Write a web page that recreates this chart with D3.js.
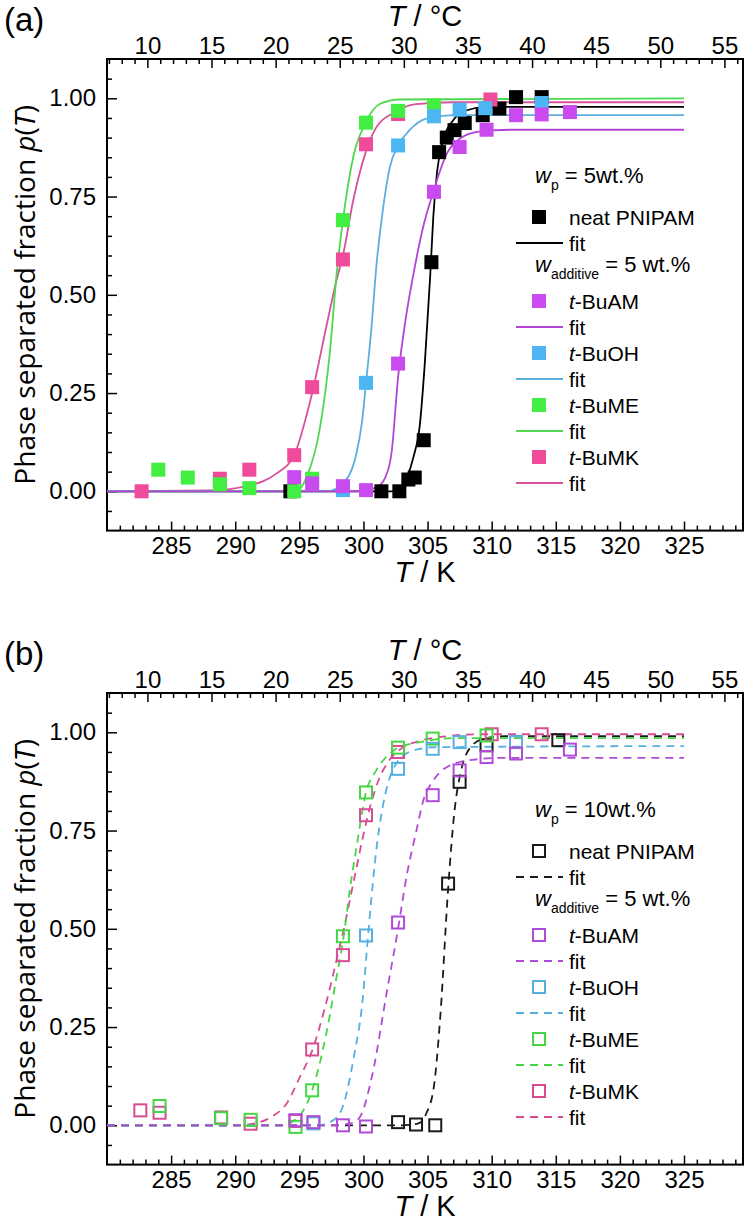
<!DOCTYPE html>
<html><head><meta charset="utf-8">
<script src="https://cdnjs.cloudflare.com/ajax/libs/d3/7.8.5/d3.min.js"></script>
<style>
body{margin:0;background:#fff}
svg{display:block}
.tick text{font-family:"Liberation Sans",Arial,sans-serif;font-size:24px;fill:#000}
.tick line{stroke:#000;stroke-width:1.5}
.lab{font-family:"Liberation Sans",Arial,sans-serif;fill:#000}
</style>
</head><body>
<svg id="chart" width="750" height="1225"></svg>
<script>
// ---------- tick labels ----------
const kelvinTicks = [285, 290, 295, 300, 305, 310, 315, 320, 325];
const celsiusTicks = [10, 15, 20, 25, 30, 35, 40, 45, 50, 55];
const fractionTicks = [0, 0.25, 0.5, 0.75, 1.0];
const kelvinMinor = d3.range(281, 330).filter(v => v % 5 !== 0);
const celsiusMinor = d3.range(7, 57).filter(v => v % 5 !== 0);
const fractionMinor = [-0.05,0.05,0.1,0.15,0.2,0.3,0.35,0.4,0.45,0.55,0.6,0.65,0.7,0.8,0.85,0.9,0.95,1.05];

// ---------- series ----------
const seriesNames = ["neat PNIPAM", "t-BuAM", "t-BuOH", "t-BuME", "t-BuMK"];

// Panel (a): wp = 5 wt.%  (T in K, p(T))
const a_neat = [[294.3,0.0],[301.4,0.0],[302.8,0.0],[303.5,0.03],[304.0,0.035],[304.7,0.13],[305.3,0.583],[305.9,0.863],[306.5,0.90],[307.1,0.919],[307.9,0.937],[309.3,0.957],[310.6,0.974],[311.9,1.003],[313.9,1.003]];
const a_AM = [[294.6,0.036],[296.0,0.02],[298.4,0.013],[300.2,0.003],[302.7,0.325],[305.5,0.762],[307.5,0.876],[309.6,0.92],[311.9,0.957],[313.9,0.959],[316.1,0.965]];
const a_OH = [[298.4,0.003],[300.2,0.276],[302.7,0.88],[305.5,0.954],[307.5,0.971],[309.5,0.975],[313.9,0.988]];
const a_ME = [[284.0,0.055],[286.3,0.035],[288.8,0.018],[291.1,0.008],[294.6,0.0],[296.0,0.032],[298.4,0.69],[300.2,0.938],[302.7,0.968],[305.5,0.982]];
const a_MK = [[282.7,0.0],[288.8,0.032],[291.1,0.055],[294.6,0.092],[296.0,0.265],[298.4,0.59],[300.2,0.883],[302.7,0.96],[309.9,0.997]];

const a_neatFit = [[280,0],[302.2,0],[302.8,0.004],[303.4,0.036],[303.9,0.087],[304.4,0.17],[304.8,0.333],[305.2,0.545],[305.45,0.7],[305.75,0.815],[306.2,0.893],[307.0,0.944],[308.0,0.969],[309.6,0.978],[325,0.978]];
const a_AMFit = [[280,0],[299.5,0],[301.0,0.01],[301.7,0.035],[302.2,0.1],[302.7,0.29],[303.3,0.44],[304.0,0.57],[304.6,0.665],[305.4,0.757],[306.5,0.859],[307.5,0.897],[309.0,0.915],[311.5,0.92],[325,0.92]];
const a_OHFit = [[280,0],[297.2,0],[298.4,0.02],[299.45,0.096],[299.9,0.18],[300.2,0.276],[300.63,0.418],[301.0,0.57],[301.55,0.725],[302.06,0.825],[302.7,0.88],[303.6,0.919],[304.9,0.948],[307,0.957],[325,0.957]];
const a_MEFit = [[280,0],[294.8,0],[295.56,0.036],[296.6,0.16],[297.4,0.36],[297.9,0.55],[298.4,0.69],[299.2,0.85],[300.2,0.94],[301.3,0.986],[302.8,0.997],[325,1.0]];
const a_MKFit = [[280,0],[288,0.002],[291.1,0.015],[293.2,0.045],[294.6,0.092],[295.6,0.198],[296.0,0.25],[297.1,0.418],[297.9,0.537],[298.4,0.6],[299.2,0.74],[300.2,0.865],[301.0,0.926],[302.3,0.962],[304.1,0.985],[307,0.99],[325,0.99]];

// Panel (b): wp = 10 wt.%
const b_neat = [[302.7,0.008],[304.1,0.002],[305.6,0.0],[306.6,0.615],[307.5,0.874],[309.6,0.967],[315.2,0.98]];
const b_AM = [[294.7,0.013],[296.1,0.008],[298.4,0.0],[300.2,-0.003],[302.7,0.516],[305.4,0.84],[307.5,0.903],[309.6,0.937],[311.9,0.946],[316.1,0.956]];
const b_OH = [[296.1,0.005],[300.2,0.483],[302.7,0.907],[305.4,0.958],[307.5,0.975],[311.9,0.975]];
const b_ME = [[284.1,0.049],[288.9,0.018],[291.2,0.014],[294.7,-0.004],[296.0,0.089],[298.4,0.481],[300.2,0.847],[302.7,0.961],[305.4,0.984],[309.6,0.992]];
const b_MK = [[282.6,0.038],[284.1,0.032],[288.9,0.02],[291.2,0.004],[294.7,0.011],[296.0,0.193],[298.4,0.433],[300.2,0.789],[302.7,0.95],[310.0,0.995],[313.9,0.995]];

const b_neatFit = [[280,0],[303,0],[304.3,0.005],[304.9,0.03],[305.5,0.1],[306.0,0.28],[306.6,0.6],[307.1,0.8],[307.6,0.9],[308.3,0.96],[309.5,0.985],[311,0.99],[325,0.99]];
const b_AMFit = [[280,0],[297.5,0],[299,0.005],[299.7,0.02],[300.7,0.13],[301.8,0.335],[302.7,0.5],[303.4,0.64],[304.1,0.745],[304.7,0.83],[305.4,0.875],[306.7,0.915],[308.5,0.93],[311,0.935],[325,0.935]];
const b_OHFit = [[280,0],[296.5,0],[297.5,0.01],[298.3,0.04],[299.2,0.165],[300,0.34],[300.3,0.46],[300.6,0.57],[301,0.7],[301.5,0.81],[302.3,0.905],[303.6,0.95],[305.5,0.962],[325,0.965]];
const b_MEFit = [[280,0],[293.5,0],[294.5,0.01],[295.04,0.025],[296.0,0.089],[297.1,0.233],[297.9,0.377],[298.5,0.49],[298.9,0.59],[299.46,0.708],[300.2,0.847],[301.0,0.903],[302.06,0.946],[302.7,0.961],[304.4,0.975],[307,0.985],[325,0.985]];
const b_MKFit = [[280,0],[290,0],[291.5,0.005],[293,0.025],[294,0.055],[295,0.12],[296,0.19],[297,0.3],[297.9,0.42],[298.6,0.52],[299.3,0.63],[300,0.74],[300.6,0.82],[301.2,0.88],[302,0.928],[302.8,0.955],[304.4,0.978],[306.5,0.99],[309,0.995],[325,0.995]];

// colours
const a_fill = ["#000000", "#C94BF0", "#4CB6F2", "#43EE43", "#F04A9B"];
const a_line = ["#000000", "#B443D6", "#5BB0DE", "#4FD84F", "#D9509B"];
const b_col  = ["#1a1a1a", "#B04BD6", "#55B0E0", "#45D545", "#D84C92"];

// ---------- layout ----------
const svg = d3.select("#chart");
const x = d3.scaleLinear().domain([280, 329.6]).range([107, 743]);
const xC = d3.scaleLinear().domain([280 - 273.15, 329.6 - 273.15]).range([107, 743]);
const PH = 471.6;
const drawOrder = [0, 4, 3, 2, 1]; // black, MK, ME, OH, AM on top

function panel(cfg) {
  const top = cfg.top, bottom = top + PH;
  const off = top - 59;
  const y = d3.scaleLinear().domain([-0.1, 1.1]).range([bottom, top]);
  const g = svg.append("g");

  // axes
  const addAxis = (axis, tr) => {
    const a = g.append("g").attr("transform", tr).call(axis);
    a.select(".domain").remove();
    a.selectAll(".tick text").attr("font-family", null).attr("font-size", null);
    return a;
  };
  addAxis(d3.axisBottom(x).tickValues(kelvinMinor).tickSize(-5).tickFormat(""), `translate(0,${bottom})`);
  addAxis(d3.axisBottom(x).tickValues(kelvinTicks).tickSize(-9).tickPadding(6).tickFormat(d3.format("d")), `translate(0,${bottom})`);
  addAxis(d3.axisTop(xC).tickValues(celsiusMinor).tickSize(-5).tickFormat(""), `translate(0,${top})`);
  addAxis(d3.axisTop(xC).tickValues(celsiusTicks).tickSize(-9).tickPadding(5).tickFormat(d3.format("d")), `translate(0,${top})`);
  addAxis(d3.axisLeft(y).tickValues(fractionMinor).tickSize(-5).tickFormat(""), `translate(107,0)`);
  addAxis(d3.axisLeft(y).tickValues(fractionTicks).tickSize(-10).tickPadding(11).tickFormat(d3.format(".2f")), `translate(107,0)`);

  // frame
  g.append("rect").attr("x", 107).attr("y", top).attr("width", 636).attr("height", PH)
    .attr("fill", "none").attr("stroke", "#000").attr("stroke-width", 2);

  // titles
  const tC = g.append("text").attr("class", "lab").attr("x", 425).attr("y", top - 33)
    .attr("text-anchor", "middle").attr("font-size", 29);
  tC.append("tspan").attr("font-style", "italic").text("T");
  tC.append("tspan").text(" / °C");
  const tK = g.append("text").attr("class", "lab").attr("x", 425).attr("y", bottom + 51)
    .attr("text-anchor", "middle").attr("font-size", 29);
  tK.append("tspan").attr("font-style", "italic").text("T");
  tK.append("tspan").text(" / K");
  g.append("text").attr("class", "lab").attr("x", 4).attr("y", top - 28)
    .attr("font-size", 33).text(cfg.label);
  const yt = g.append("text").attr("transform", `translate(35,${(top + bottom) / 2}) rotate(-90)`)
    .attr("text-anchor", "middle").attr("font-family", "'Open Sans', sans-serif").attr("font-size", 28).attr("fill", "#000");
  yt.append("tspan").text("Phase separated fraction ");
  yt.append("tspan").attr("font-style", "italic").text("p");
  yt.append("tspan").text("(");
  yt.append("tspan").attr("font-style", "italic").text("T");
  yt.append("tspan").text(")");

  // fit lines
  const line = d3.line().x(d => x(d[0])).y(d => y(d[1])).curve(d3.curveMonotoneX);
  drawOrder.forEach(i => {
    g.append("path").datum(cfg.fits[i]).attr("d", line).attr("fill", "none")
      .attr("stroke", cfg.lineCols[i]).attr("stroke-width", 1.8)
      .attr("stroke-dasharray", cfg.dashed ? "8,6" : null);
  });
  // points
  const S = cfg.filled ? 14 : 12;
  drawOrder.forEach(i => {
    g.append("g").selectAll("rect").data(cfg.points[i]).join("rect")
      .attr("x", d => x(d[0]) - S / 2).attr("y", d => y(d[1]) - S / 2)
      .attr("width", S).attr("height", S)
      .attr("fill", cfg.filled ? cfg.fillCols[i] : "none")
      .attr("stroke", cfg.filled ? "none" : cfg.lineCols[i])
      .attr("stroke-width", cfg.filled ? 0 : 2);
  });

  // legend
  const L = g.append("g").attr("transform", `translate(0,${off})`).attr("class", "lab");
  const wp = L.append("text").attr("x", 535).attr("y", 183).attr("font-size", 22);
  wp.append("tspan").attr("font-style", "italic").text("w");
  wp.append("tspan").attr("font-size", 14).attr("dy", 7).text("p");
  wp.append("tspan").attr("dy", -7).text(cfg.wpText);
  const wa = L.append("text").attr("x", 535).attr("y", 272).attr("font-size", 22);
  wa.append("tspan").attr("font-style", "italic").text("w");
  wa.append("tspan").attr("font-size", 14).attr("dy", 7).text("additive");
  wa.append("tspan").attr("dy", -7).text(" = 5 wt.%");
  const rows = [217, 301, 353, 405, 457];
  rows.forEach((ry, i) => {
    L.append("rect").attr("x", 539 - S / 2).attr("y", ry - S / 2).attr("width", S).attr("height", S)
      .attr("fill", cfg.filled ? cfg.fillCols[i] : "none")
      .attr("stroke", cfg.filled ? "none" : cfg.lineCols[i]).attr("stroke-width", cfg.filled ? 0 : 2);
    const t = L.append("text").attr("x", 569).attr("y", ry + 7.5).attr("font-size", 21);
    const nm = seriesNames[i];
    if (nm.startsWith("t-")) {
      t.append("tspan").attr("font-style", "italic").text("t");
      t.append("tspan").text(nm.slice(1));
    } else t.text(nm);
    const fy = ry + 26;
    L.append("line").attr("x1", 516).attr("x2", 563).attr("y1", fy).attr("y2", fy)
      .attr("stroke", cfg.lineCols[i]).attr("stroke-width", 1.8)
      .attr("stroke-dasharray", cfg.dashed ? "8,6" : null);
    L.append("text").attr("x", 569).attr("y", fy + 7.5).attr("font-size", 21).text("fit");
  });
}

panel({top: 59, label: "(a)", wpText: " = 5wt.%", filled: true, dashed: false,
  points: [a_neat, a_AM, a_OH, a_ME, a_MK], fits: [a_neatFit, a_AMFit, a_OHFit, a_MEFit, a_MKFit],
  fillCols: a_fill, lineCols: a_line});
panel({top: 693, label: "(b)", wpText: " = 10wt.%", filled: false, dashed: true,
  points: [b_neat, b_AM, b_OH, b_ME, b_MK], fits: [b_neatFit, b_AMFit, b_OHFit, b_MEFit, b_MKFit],
  fillCols: b_col, lineCols: b_col});
</script>
</body></html>
